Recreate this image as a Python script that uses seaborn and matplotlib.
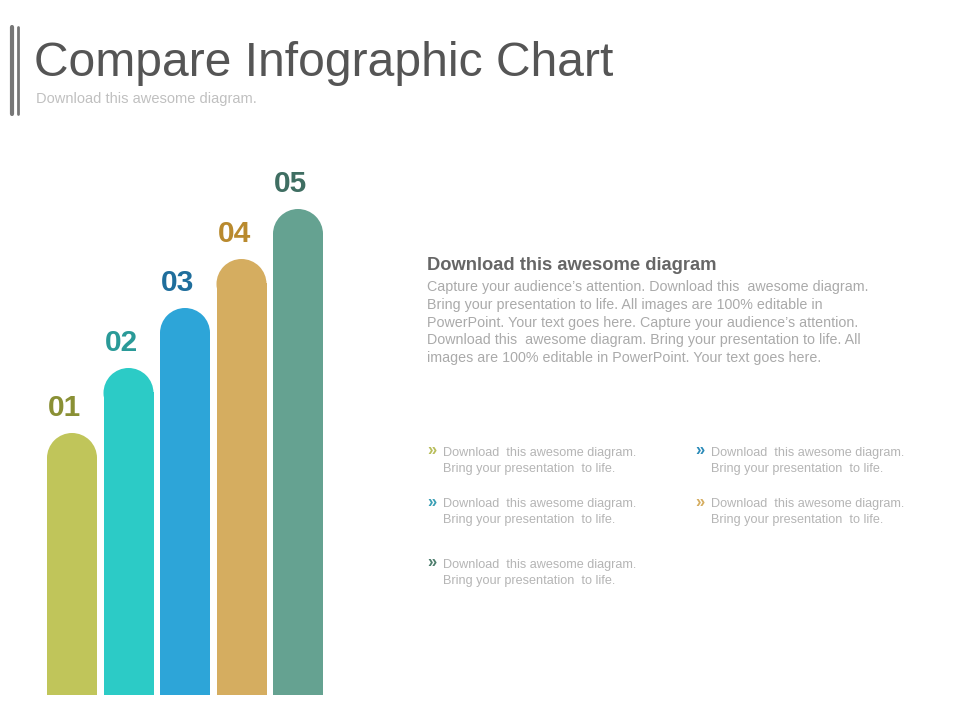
import numpy as np
import pandas as pd
import seaborn as sns
import matplotlib
matplotlib.use("Agg")
from matplotlib import pyplot as plt
from matplotlib.patches import Ellipse

# chart values
steps = ["01", "02", "03", "04", "05"]
heights = [262, 327, 387, 436, 486]
bar_colors = ["#c0c55a", "#2ccbc6", "#2da5d8", "#d5ad60", "#65a291"]
label_colors = ["#8a9035", "#2a9a98", "#1f6e9c", "#b98a2e", "#3f6e62"]

title = "Compare Infographic Chart"
subtitle = "Download this awesome diagram."
heading = "Download this awesome diagram"
paragraph = [
    "Capture your audience\u2019s attention. Download this  awesome diagram.",
    "Bring your presentation to life. All images are 100% editable in",
    "PowerPoint. Your text goes here. Capture your audience\u2019s attention.",
    "Download this  awesome diagram. Bring your presentation to life. All",
    "images are 100% editable in PowerPoint. Your text goes here.",
]
bullet_lines = ["Download  this awesome diagram.", "Bring your presentation  to life."]
bullet_colors = ["#b8bd5a", "#3a9fb5", "#4d7d6c", "#2a8ab8", "#d5ad60"]

sns.set_theme(style="white")
plt.rcParams['font.family'] = ['Liberation Sans', 'DejaVu Sans']

W, H = 960, 720
fig = plt.figure(figsize=(9.6, 7.2), dpi=100)
fig.patch.set_facecolor("white")


def fx(px):
    return px / W


def fy(py):
    return 1 - py / H


# bar area: one category step = 56.5 px, y in pixels
step_px = 56.5
ax = fig.add_axes([fx(72 - step_px / 2), 25 / H, 5 * step_px / W, 560 / H])
df = pd.DataFrame({"step": steps, "height": heights})
sns.barplot(data=df, x="step", y="height", hue="step", palette=bar_colors,
            width=50 / step_px, legend=False, ax=ax, saturation=1)
ax.set_xlim(-0.5, 4.5)
ax.set_ylim(0, 560)
ax.axis("off")

r_y = 25  # cap radius in px == data units on y
for patch, h, col, lab, lcol in zip(ax.patches, heights, bar_colors, steps, label_colors):
    x0, w = patch.get_x(), patch.get_width()
    patch.set_height(h - r_y + 1)
    patch.set_linewidth(0)
    ax.add_patch(Ellipse((x0 + w / 2, h - r_y), w, 2 * r_y, facecolor=col,
                         linewidth=0))
    # numbers sit a little left of the bar centre
    ax.text(x0 + w / 2 - 0.13, h + 25, lab, ha="center", va="center",
            fontsize=21.5, fontweight="bold", color=lcol)

# title block
for lx in (12, 18):
    fig.add_artist(plt.Line2D([fx(lx), fx(lx)], [fy(27), fy(114)],
                              color="#777777", linewidth=3 if lx == 12 else 2))
fig.text(fx(34), fy(64), title, fontsize=34.6, color="#555555", va="center", ha="left")
fig.text(fx(36), fy(99), subtitle, fontsize=10.5, color="#c0c0c0", va="center", ha="left")

# description
fig.text(fx(427), fy(265), heading, fontsize=13.2, fontweight="bold",
         color="#666666", va="center", ha="left")
for i, line in enumerate(paragraph):
    fig.text(fx(427), fy(287 + i * 17.8), line, fontsize=10.25, color="#aaaaaa",
             va="center", ha="left")

# bullets: (column x, row y)
bullet_pos = [(427, 452), (427, 503), (427, 564), (695, 452), (695, 503)]
for (bx, by), bc in zip(bullet_pos, bullet_colors):
    fig.text(fx(bx), fy(by - 1), "\u00bb", fontsize=12, fontweight="bold",
             color=bc, va="center", ha="left")
    for j, line in enumerate(bullet_lines):
        fig.text(fx(bx + 16), fy(by + 1 + j * 16), line, fontsize=9.1,
                 color="#b5b5b5", va="center", ha="left")

fig.savefig("out.png", dpi=100, facecolor="white")
